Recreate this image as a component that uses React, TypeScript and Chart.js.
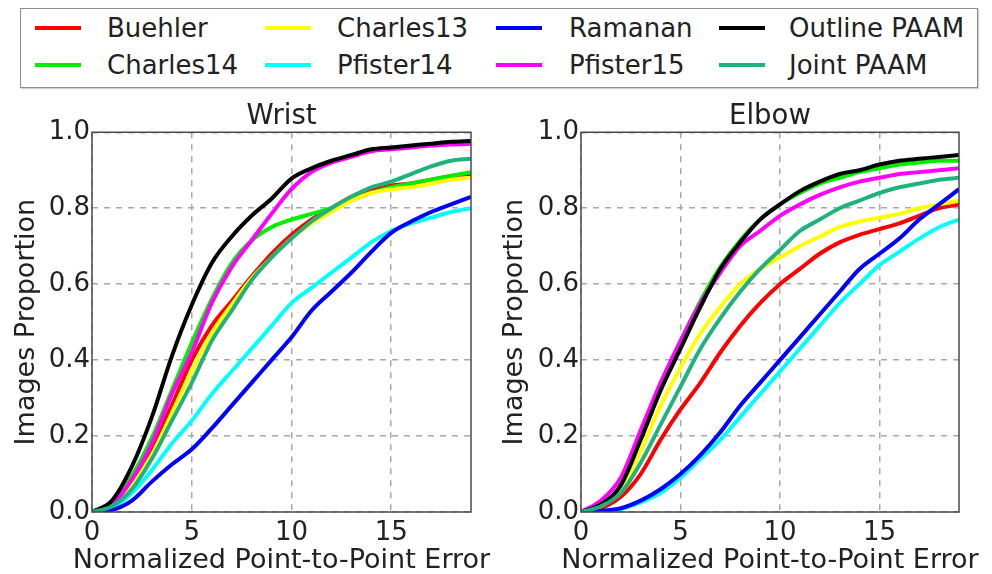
import { useEffect, useRef } from "react";
import { Chart, registerables } from "chart.js";

Chart.register(...registerables);

const FONT = "'DejaVu Sans', 'Liberation Sans', sans-serif";

// ---- data ----
const errorSteps = [0, 1, 2, 3, 4, 5, 6, 7, 8, 9, 10, 11, 12, 13, 14, 15, 16, 17, 18, 19];
const xTickValues = [0, 5, 10, 15];
const yTickValues = [0, 0.2, 0.4, 0.6, 0.8, 1.0];
const panelTitles = ["Wrist", "Elbow"];
const xAxisTitle = "Normalized Point-to-Point Error";
const yAxisTitle = "Images Proportion";

const seriesNames = ["Buehler", "Charles14", "Charles13", "Pfister14", "Ramanan", "Pfister15", "Outline PAAM", "Joint PAAM"];
const seriesColors = ["#ff0000", "#00ee00", "#ffff00", "#00ffff", "#0000ff", "#ff00ff", "#000000", "#20b27c"];

// Wrist
const wristBuehler = [0, 0.015, 0.08, 0.17, 0.28, 0.4, 0.49, 0.555, 0.62, 0.68, 0.73, 0.77, 0.8, 0.83, 0.85, 0.86, 0.865, 0.875, 0.885, 0.89];
const wristCharles14 = [0, 0.025, 0.095, 0.195, 0.32, 0.445, 0.56, 0.655, 0.715, 0.75, 0.77, 0.785, 0.8, 0.82, 0.84, 0.855, 0.865, 0.875, 0.885, 0.895];
const wristCharles13 = [0, 0.012, 0.07, 0.15, 0.26, 0.37, 0.47, 0.545, 0.615, 0.67, 0.72, 0.76, 0.79, 0.82, 0.84, 0.85, 0.855, 0.865, 0.875, 0.88];
const wristPfister14 = [0, 0.01, 0.05, 0.11, 0.18, 0.24, 0.31, 0.37, 0.43, 0.49, 0.55, 0.59, 0.63, 0.67, 0.71, 0.74, 0.76, 0.775, 0.79, 0.8];
const wristRamanan = [0, 0.005, 0.03, 0.08, 0.125, 0.165, 0.22, 0.28, 0.34, 0.4, 0.46, 0.53, 0.58, 0.63, 0.685, 0.735, 0.765, 0.79, 0.81, 0.83];
const wristPfister15 = [0, 0.02, 0.085, 0.18, 0.31, 0.42, 0.55, 0.645, 0.715, 0.785, 0.85, 0.895, 0.92, 0.935, 0.95, 0.955, 0.96, 0.965, 0.968, 0.97];
const wristOutline = [0, 0.03, 0.12, 0.25, 0.41, 0.545, 0.655, 0.725, 0.78, 0.825, 0.878, 0.905, 0.925, 0.94, 0.955, 0.96, 0.965, 0.97, 0.975, 0.977];
const wristJoint = [0, 0.015, 0.06, 0.14, 0.24, 0.34, 0.45, 0.53, 0.61, 0.67, 0.72, 0.765, 0.8, 0.83, 0.855, 0.87, 0.89, 0.91, 0.925, 0.93];

// Elbow
const elbowBuehler = [0, 0.01, 0.04, 0.1, 0.19, 0.27, 0.34, 0.42, 0.49, 0.55, 0.6, 0.64, 0.68, 0.71, 0.73, 0.745, 0.76, 0.78, 0.8, 0.81];
const elbowCharles14 = [0, 0.02, 0.07, 0.2, 0.33, 0.45, 0.555, 0.645, 0.715, 0.77, 0.81, 0.84, 0.865, 0.88, 0.895, 0.905, 0.915, 0.92, 0.925, 0.925];
const elbowCharles13 = [0, 0.015, 0.06, 0.16, 0.28, 0.38, 0.47, 0.54, 0.6, 0.64, 0.67, 0.7, 0.725, 0.75, 0.765, 0.775, 0.785, 0.8, 0.81, 0.82];
const elbowPfister14 = [0, 0.002, 0.008, 0.025, 0.05, 0.09, 0.14, 0.19, 0.25, 0.31, 0.37, 0.43, 0.49, 0.55, 0.6, 0.65, 0.685, 0.72, 0.75, 0.77];
const elbowRamanan = [0, 0.003, 0.01, 0.03, 0.06, 0.1, 0.15, 0.21, 0.28, 0.34, 0.4, 0.46, 0.52, 0.58, 0.64, 0.68, 0.72, 0.77, 0.81, 0.85];
const elbowPfister15 = [0, 0.03, 0.09, 0.215, 0.34, 0.45, 0.55, 0.63, 0.7, 0.74, 0.78, 0.81, 0.835, 0.855, 0.87, 0.88, 0.89, 0.895, 0.9, 0.905];
const elbowOutline = [0, 0.02, 0.07, 0.19, 0.32, 0.43, 0.54, 0.64, 0.71, 0.77, 0.81, 0.845, 0.87, 0.89, 0.9, 0.915, 0.925, 0.93, 0.935, 0.94];
const elbowJoint = [0, 0.015, 0.05, 0.13, 0.23, 0.33, 0.43, 0.51, 0.58, 0.64, 0.69, 0.74, 0.77, 0.8, 0.82, 0.84, 0.855, 0.865, 0.875, 0.88];

const wristSeries = [wristBuehler, wristCharles14, wristCharles13, wristPfister14, wristRamanan, wristPfister15, wristOutline, wristJoint];
const elbowSeries = [elbowBuehler, elbowCharles14, elbowCharles13, elbowPfister14, elbowRamanan, elbowPfister15, elbowOutline, elbowJoint];

const PANEL_W = 496;
const PANEL_H = 479;
const PANEL_TOP = 95;

const framePlugin = {
  id: "frame",
  afterDraw(chart: any) {
    const { ctx, chartArea } = chart;
    const { left, top, right, bottom } = chartArea;
    ctx.save();
    ctx.strokeStyle = "#4a4a4a";
    ctx.lineWidth = 1.5;
    ctx.strokeRect(left, top, right - left, bottom - top);
    ctx.restore();
  },
};

// x-axis title drawn without width limit (it is wider than the plot area)
const xTitlePlugin = {
  id: "xTitleFree",
  afterDraw(chart: any) {
    const { ctx, chartArea } = chart;
    ctx.save();
    ctx.font = `27px ${FONT}`;
    ctx.fillStyle = "#222";
    ctx.textAlign = "center";
    ctx.textBaseline = "alphabetic";
    ctx.fillText(xAxisTitle, (chartArea.left + chartArea.right) / 2, chart.height - 6);
    ctx.restore();
  },
};

function makeConfig(title: string, series: number[][], yWidth: number, yTitlePad: number, rightPad: number) {
  const n = series.length;
  return {
    type: "line" as const,
    data: {
      datasets: series.map((vals, i) => ({
        label: seriesNames[i],
        data: errorSteps.map((x, j) => ({ x, y: vals[j] })),
        borderColor: seriesColors[i],
        backgroundColor: seriesColors[i],
        borderWidth: 4,
        pointRadius: 0,
        fill: false,
        cubicInterpolationMode: "monotone" as const,
        order: n - i,
        clip: 0,
      })),
    },
    options: {
      responsive: false,
      animation: false as const,
      devicePixelRatio: 1,
      layout: { padding: { left: 0, right: rightPad, top: 0, bottom: 0 } },
      plugins: {
        legend: { display: false },
        tooltip: { enabled: false },
        title: {
          display: true,
          text: title,
          fullSize: false,
          color: "#222",
          font: { family: FONT, size: 27.5, weight: "normal" as const, lineHeight: 1.1 },
          padding: { top: 7, bottom: 0 },
        },
      },
      scales: {
        x: {
          type: "linear" as const,
          min: 0,
          max: 19,
          afterFit: (s: any) => {
            s.height = 62;
          },
          afterBuildTicks: (s: any) => {
            s.ticks = xTickValues.map((v) => ({ value: v }));
          },
          ticks: {
            autoSkip: false,
            maxRotation: 0,
            padding: 6,
            color: "#222",
            font: { family: FONT, size: 26 },
            callback: (v: any) => String(v),
          },
          grid: { color: "#a8a8a8", lineWidth: 1.5, drawTicks: false },
          border: { display: false, dash: [6, 6] },
          title: { display: false },
        },
        y: {
          type: "linear" as const,
          min: 0,
          max: 1,
          afterFit: (s: any) => {
            s.width = yWidth;
          },
          afterBuildTicks: (s: any) => {
            s.ticks = yTickValues.map((v) => ({ value: v }));
          },
          ticks: {
            padding: 2,
            color: "#222",
            font: { family: FONT, size: 26 },
            callback: (v: any) => Number(v).toFixed(1),
          },
          grid: { color: "#a8a8a8", lineWidth: 1.5, drawTicks: false },
          border: { display: false, dash: [6, 6] },
          title: {
            display: true,
            text: yAxisTitle,
            color: "#222",
            font: { family: FONT, size: 27, lineHeight: 1.2 },
            padding: { top: yTitlePad, bottom: 0 },
          },
        },
      },
    },
    plugins: [framePlugin, xTitlePlugin],
  };
}

function Panel(props: { left: number; title: string; series: number[][]; yWidth: number; yTitlePad: number; rightPad: number }) {
  const ref = useRef<HTMLCanvasElement | null>(null);
  useEffect(() => {
    if (!ref.current) return;
    const chart = new Chart(ref.current, makeConfig(props.title, props.series, props.yWidth, props.yTitlePad, props.rightPad) as any);
    return () => chart.destroy();
  }, []);
  return (
    <canvas
      ref={ref}
      width={PANEL_W}
      height={PANEL_H}
      style={{ position: "absolute", left: props.left, top: PANEL_TOP, width: PANEL_W, height: PANEL_H }}
    />
  );
}

const legendCols = [
  { sample: 35, text: 107 },
  { sample: 265, text: 337 },
  { sample: 496, text: 569 },
  { sample: 719, text: 789 },
];
const legendRows = [28, 65];

export default function App() {
  return (
    <div style={{ position: "absolute", left: 0, top: 0, width: 992, height: 574, background: "#fff", overflow: "hidden" }}>
      <div
        style={{
          position: "absolute",
          left: 20,
          top: 8,
          width: 958,
          height: 80,
          border: "1.5px solid #8c8c8c",
          boxSizing: "border-box",
          boxShadow: "1px 1px 1px #d0d0d0",
        }}
      />
      {seriesNames.map((name, i) => {
        const col = legendCols[Math.floor(i / 2)];
        const rowY = legendRows[i % 2];
        return (
          <div key={name}>
            <div
              style={{
                position: "absolute",
                left: col.sample,
                top: rowY - 2,
                width: 46,
                height: 4,
                background: seriesColors[i],
              }}
            />
            <div
              style={{
                position: "absolute",
                left: col.text,
                top: rowY - 18,
                height: 36,
                lineHeight: "36px",
                fontFamily: FONT,
                fontSize: 26,
                color: "#222",
                whiteSpace: "nowrap",
              }}
            >
              {name}
            </div>
          </div>
        );
      })}
      <Panel left={0} title={panelTitles[0]} series={wristSeries} yWidth={92} yTitlePad={11} rightPad={25} />
      <Panel left={PANEL_W} title={panelTitles[1]} series={elbowSeries} yWidth={85} yTitlePad={3} rightPad={33} />
    </div>
  );
}
